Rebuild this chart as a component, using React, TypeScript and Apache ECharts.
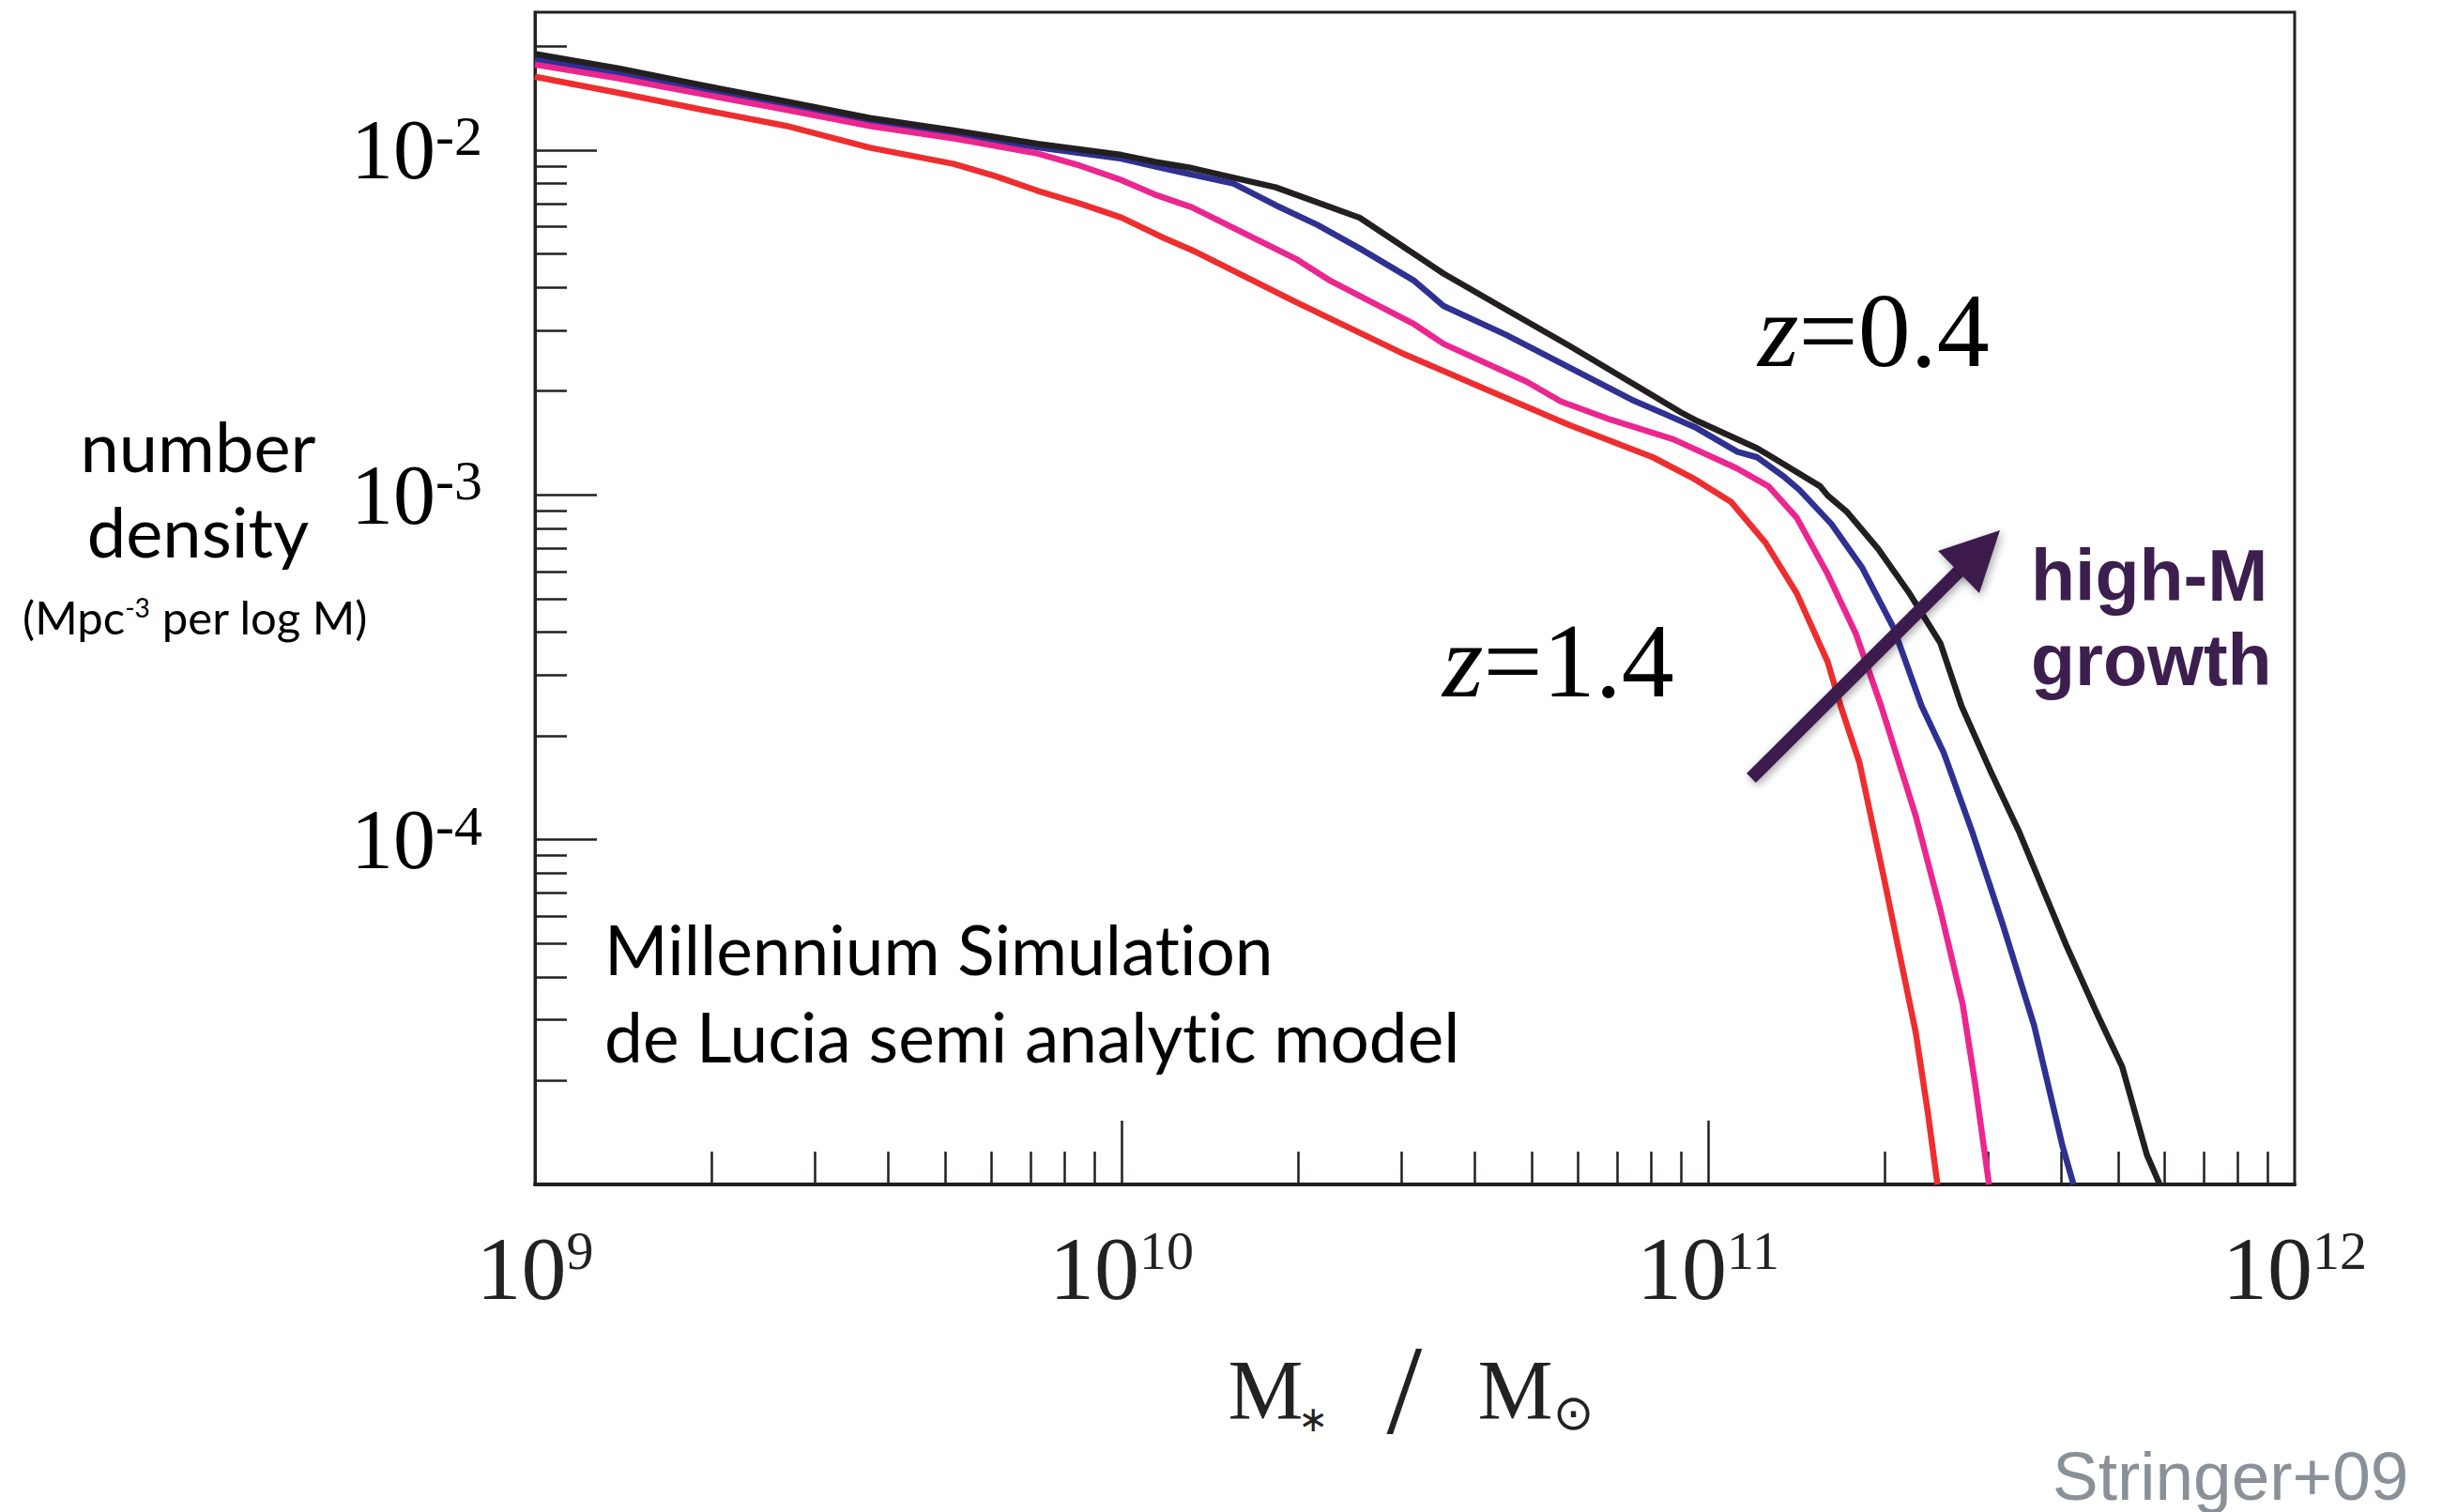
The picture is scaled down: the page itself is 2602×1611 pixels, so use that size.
import { useEffect, useRef } from 'react';
import * as echarts from 'echarts';

// Stellar mass function, Millennium Simulation + de Lucia SAM.
// x: log10(M* / Msun), y: log10(number density / Mpc^-3 per log M)

const massZ04 = [9.0, 9.143, 9.286, 9.429, 9.571, 9.714, 9.857, 10.0, 10.057, 10.12, 10.263, 10.406, 10.549, 10.656, 10.763, 10.906, 10.954, 10.977, 11.084, 11.103, 11.191, 11.204, 11.236, 11.29, 11.343, 11.396, 11.432, 11.482, 11.53, 11.61, 11.663, 11.706, 11.748, 11.77];
const densZ04 = [-1.721, -1.763, -1.812, -1.859, -1.907, -1.943, -1.982, -2.014, -2.034, -2.052, -2.108, -2.196, -2.358, -2.463, -2.567, -2.712, -2.761, -2.782, -2.865, -2.884, -2.975, -3.002, -3.048, -3.157, -3.285, -3.43, -3.612, -3.803, -3.976, -4.304, -4.504, -4.659, -4.914, -5.0];

const massBlue = [9.0, 9.143, 9.286, 9.429, 9.571, 9.714, 9.857, 10.0, 10.057, 10.12, 10.191, 10.263, 10.334, 10.406, 10.499, 10.549, 10.656, 10.763, 10.87, 10.977, 11.05, 11.084, 11.13, 11.156, 11.21, 11.263, 11.316, 11.364, 11.402, 11.45, 11.503, 11.556, 11.604, 11.623];
const densBlue = [-1.737, -1.775, -1.823, -1.87, -1.917, -1.953, -1.992, -2.025, -2.047, -2.071, -2.097, -2.16, -2.217, -2.285, -2.379, -2.452, -2.536, -2.63, -2.724, -2.803, -2.875, -2.891, -2.948, -2.986, -3.084, -3.212, -3.385, -3.612, -3.749, -3.976, -4.249, -4.54, -4.887, -5.0];

const massMagenta = [9.0, 9.143, 9.286, 9.429, 9.571, 9.714, 9.857, 9.929, 10.0, 10.057, 10.12, 10.299, 10.356, 10.499, 10.549, 10.691, 10.749, 10.834, 10.941, 11.049, 11.103, 11.151, 11.204, 11.252, 11.295, 11.354, 11.396, 11.434, 11.455, 11.479];
const densMagenta = [-1.752, -1.792, -1.838, -1.883, -1.93, -1.966, -2.01, -2.045, -2.087, -2.129, -2.166, -2.317, -2.379, -2.505, -2.562, -2.672, -2.729, -2.782, -2.839, -2.923, -2.975, -3.066, -3.23, -3.403, -3.612, -3.931, -4.204, -4.477, -4.705, -5.0];

const massZ14 = [9.0, 9.143, 9.286, 9.429, 9.571, 9.714, 9.786, 9.857, 9.929, 10.0, 10.071, 10.12, 10.299, 10.477, 10.62, 10.763, 10.906, 10.977, 11.039, 11.098, 11.151, 11.204, 11.226, 11.258, 11.3, 11.354, 11.375, 11.391];
const densZ14 = [-1.787, -1.834, -1.883, -1.93, -1.993, -2.04, -2.076, -2.118, -2.155, -2.196, -2.254, -2.29, -2.442, -2.588, -2.693, -2.797, -2.891, -2.954, -3.02, -3.139, -3.285, -3.485, -3.612, -3.776, -4.113, -4.559, -4.795, -5.0];

// Axis ranges (log10 units) and labelled decades
const X_RANGE = [9, 12];
const Y_RANGE = [-5, -1.6];
const X_LABELS = [9, 10, 11, 12];
const X_MAJOR = [10, 11];
const Y_LABELS = [-4, -3, -2];

const BLACK = '#231f20';
const BLUE = '#2e3192';
const MAGENTA = '#ec268f';
const RED = '#ee2d2f';
const PURPLE = '#3c1f4e';
const GREY = '#8a9098';
const SERIF = '"Liberation Serif", "Times New Roman", serif';
const SANS = '"Liberation Sans", Arial, sans-serif';
const HUMANIST = 'Lato, "Noto Sans", sans-serif';
// zero-width non-joiner keeps Lato from fusing "ti" into a ligature
const ZWNJ = '\u200C';

// minor ticks at k * 10^n, k = 2..9, inside the given range
function minorTicks(lo: number, hi: number): number[] {
  const out: number[] = [];
  for (let n = Math.floor(lo); n < Math.ceil(hi); n++) {
    for (let k = 2; k <= 9; k++) {
      const v = n + Math.log10(k);
      if (v > lo && v < hi) out.push(v);
    }
  }
  return out;
}

const curves = [
  { name: 'blue', color: BLUE, mass: massBlue, dens: densBlue },
  { name: 'magenta', color: MAGENTA, mass: massMagenta, dens: densMagenta },
  { name: 'z=1.4', color: RED, mass: massZ14, dens: densZ14 },
  { name: 'z=0.4', color: BLACK, mass: massZ04, dens: densZ04 },
];

export default function App() {
  const ref = useRef<HTMLDivElement>(null);

  useEffect(() => {
    if (!ref.current) return;
    const chart = echarts.init(ref.current, undefined, { renderer: 'svg' });

    const tickStyle = { color: BLACK, width: 2.5 };

    const option: any = {
      animation: false,
      backgroundColor: '#ffffff',
      grid: {
        left: 570,
        right: 157,
        top: 13,
        bottom: 349,
        show: true,
        borderColor: BLACK,
        borderWidth: 3,
        backgroundColor: 'transparent',
        containLabel: false,
        outerBoundsMode: 'none',
      },
      xAxis: [
        {
          type: 'value',
          position: 'bottom',
          min: X_RANGE[0],
          max: X_RANGE[1],
          axisLine: { show: true, lineStyle: { color: BLACK, width: 4 } },
          axisTick: { show: true, inside: true, length: 68, customValues: X_MAJOR, lineStyle: tickStyle },
          axisLabel: {
            show: true,
            customValues: X_LABELS,
            showMinLabel: true,
            showMaxLabel: true,
            margin: 41,
            formatter: (v: number) => `{b|10}{s|${v}}`,
            rich: {
              b: { fontFamily: SERIF, fontSize: 96, lineHeight: 96, color: '#222' },
              s: { fontFamily: SERIF, fontSize: 58, lineHeight: 64, verticalAlign: 'top', color: '#222' },
            },
          },
          splitLine: { show: false },
          name: '{m|M}{a|∗}{sl|/}{m2|M}{o|⊙}',
          nameLocation: 'middle',
          nameGap: 169,
          nameMoveOverlap: false,
          nameTextStyle: {
            rich: {
              m: { fontFamily: SERIF, fontSize: 90, lineHeight: 100, width: 70, align: 'center', color: '#222' },
              a: { fontFamily: '"DejaVu Sans", sans-serif', fontSize: 38, lineHeight: 36, verticalAlign: 'bottom', width: 32, align: 'center', color: '#222' },
              sl: { fontFamily: SERIF, fontSize: 136, lineHeight: 100, width: 162, align: 'center', color: '#222' },
              m2: { fontFamily: SERIF, fontSize: 90, lineHeight: 100, width: 74, align: 'center', color: '#222' },
              o: { fontFamily: '"DejaVu Sans", sans-serif', fontSize: 52, lineHeight: 18, verticalAlign: 'bottom', width: 50, align: 'center', color: '#222' },
            },
          },
        },
        {
          type: 'value',
          position: 'bottom',
          min: X_RANGE[0],
          max: X_RANGE[1],
          axisLine: { show: false },
          axisTick: { show: true, inside: true, length: 35, customValues: minorTicks(X_RANGE[0], X_RANGE[1]), lineStyle: tickStyle },
          axisLabel: { show: false },
          splitLine: { show: false },
        },
      ],
      yAxis: [
        {
          type: 'value',
          position: 'left',
          min: Y_RANGE[0],
          max: Y_RANGE[1],
          axisLine: { show: true, lineStyle: { color: BLACK, width: 3 } },
          axisTick: { show: true, inside: true, length: 66, customValues: Y_LABELS, lineStyle: tickStyle },
          axisLabel: {
            show: true,
            customValues: Y_LABELS,
            margin: 56,
            formatter: (v: number) => `{b|10}{s|${v}}`,
            rich: {
              b: { fontFamily: SERIF, fontSize: 90, lineHeight: 90, color: '#000' },
              s: { fontFamily: SERIF, fontSize: 60, lineHeight: 40, verticalAlign: 'top', color: '#000' },
            },
          },
          splitLine: { show: false },
        },
        {
          type: 'value',
          position: 'left',
          min: Y_RANGE[0],
          max: Y_RANGE[1],
          axisLine: { show: false },
          axisTick: { show: true, inside: true, length: 34, customValues: minorTicks(Y_RANGE[0], Y_RANGE[1]), lineStyle: tickStyle },
          axisLabel: { show: false },
          splitLine: { show: false },
        },
      ],
      series: curves.map((c, i) => ({
        type: 'line',
        name: c.name,
        xAxisIndex: 0,
        yAxisIndex: 0,
        data: c.mass.map((m, j) => [m, c.dens[j]]),
        showSymbol: false,
        symbol: 'none',
        smooth: false,
        z: 2 + i,
        lineStyle: { color: c.color, width: 6.5, join: 'round', cap: 'butt' },
        itemStyle: { color: c.color },
      })),
      graphic: {
        elements: [
          {
            type: 'text', x: 211, y: 474, z: 50,
            style: { text: 'number', font: `74px ${HUMANIST}`, fill: '#000', textAlign: 'center', textVerticalAlign: 'middle' },
          },
          {
            type: 'text', x: 211, y: 565, z: 50,
            style: { text: 'density', font: `74px ${HUMANIST}`, fill: '#000', textAlign: 'center', textVerticalAlign: 'middle' },
          },
          {
            type: 'text', x: 208, y: 657, z: 50,
            style: {
              text: '{p|(Mpc}{s|-3}{p| per log M)}',
              textAlign: 'center',
              textVerticalAlign: 'middle',
              rich: {
                p: { fontFamily: HUMANIST, fontSize: 49, lineHeight: 48, fill: '#000', color: '#000' },
                s: { fontFamily: HUMANIST, fontSize: 28, lineHeight: 32, verticalAlign: 'top', fill: '#000', color: '#000' },
              },
            },
          },
          {
            type: 'text', x: 644, y: 1057, z: 50,
            style: {
              text: `Millennium Simulat${ZWNJ}ion\nde Lucia semi analyt${ZWNJ}ic model`,
              font: `73px ${HUMANIST}`,
              lineHeight: 93,
              fill: '#000',
              textAlign: 'left',
              textVerticalAlign: 'middle',
            },
          },
          {
            type: 'text', x: 1873, y: 352, z: 50,
            style: {
              text: '{i|z}{r|=0.4}',
              textAlign: 'left',
              textVerticalAlign: 'middle',
              rich: {
                i: { fontFamily: SERIF, fontStyle: 'italic', fontSize: 112, fill: '#000', color: '#000' },
                r: { fontFamily: SERIF, fontSize: 112, fill: '#000', color: '#000' },
              },
            },
          },
          {
            type: 'text', x: 1537, y: 704, z: 50,
            style: {
              text: '{i|z}{r|=1.4}',
              textAlign: 'left',
              textVerticalAlign: 'middle',
              rich: {
                i: { fontFamily: SERIF, fontStyle: 'italic', fontSize: 112, fill: '#000', color: '#000' },
                r: { fontFamily: SERIF, fontSize: 112, fill: '#000', color: '#000' },
              },
            },
          },
          {
            type: 'group', z: 60,
            children: [
              {
                type: 'line', z: 60,
                shape: { x1: 1866, y1: 829, x2: 2092, y2: 604 },
                style: { stroke: PURPLE, lineWidth: 14, lineCap: 'butt', shadowBlur: 10, shadowColor: 'rgba(0,0,0,0.35)', shadowOffsetX: 2, shadowOffsetY: 3 },
              },
              {
                type: 'polygon', z: 61,
                shape: { points: [[2131, 565], [2065, 587], [2109, 632]] },
                style: { fill: PURPLE, shadowBlur: 10, shadowColor: 'rgba(0,0,0,0.35)', shadowOffsetX: 2, shadowOffsetY: 3 },
              },
            ],
          },
          {
            type: 'text', x: 2164, y: 658, z: 50,
            style: {
              text: 'high-M\ngrowth',
              font: `bold 77px ${SANS}`,
              lineHeight: 90,
              fill: PURPLE,
              textAlign: 'left',
              textVerticalAlign: 'middle',
            },
          },
          {
            type: 'text', x: 2187, y: 1572, z: 50,
            style: { text: 'Stringer+09', font: `73px ${SANS}`, fill: GREY, textAlign: 'left', textVerticalAlign: 'middle' },
          },
        ],
      },
    };

    chart.setOption(option);
    return () => chart.dispose();
  }, []);

  return (
    <div
      ref={ref}
      style={{ position: 'absolute', left: 0, top: 0, width: '2602px', height: '1611px', background: '#fff' }}
    />
  );
}
